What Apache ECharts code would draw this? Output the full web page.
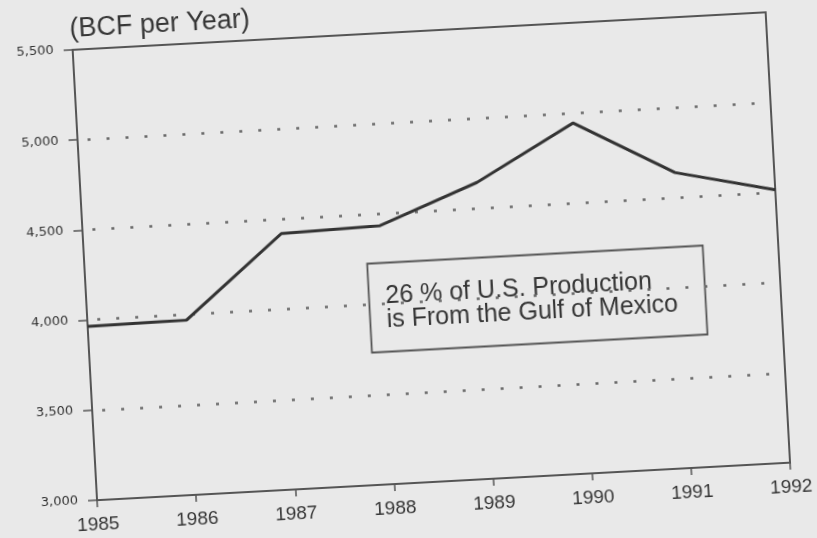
<!DOCTYPE html>
<html>
<head>
<meta charset="utf-8">
<script src="https://cdn.jsdelivr.net/npm/echarts@6/dist/echarts.min.js"></script>
<style>
  html, body { margin: 0; padding: 0; width: 817px; height: 538px; overflow: hidden; background: #e9e9e9; }
  /* the scan is tilted a little, so the whole chart is turned about the page centre */
  #chart { position: absolute; left: -50px; top: -50px; width: 917px; height: 638px; transform: rotate(-3.1deg); }
</style>
</head>
<body>
<div id="chart"></div>
<script>
// BCF per year
var years = ['1985', '1986', '1987', '1988', '1989', '1990', '1991', '1992'];
var production = [3965, 3970, 4420, 4435, 4645, 4945, 4640, 4515];
var yTicks = [3000, 3500, 4000, 4500, 5000, 5500];
var unitLabel = '(BCF per Year)';
var noteLines = ['26 % of U.S. Production', 'is From the Gulf of Mexico'];

var ink = '#363636';
var font = 'Liberation Sans';

var myChart = echarts.init(document.getElementById('chart'));

var option = {
    animation: false,
    backgroundColor: 'transparent',
    title: {
        text: unitLabel,
        left: 133,
        top: 48,
        padding: 0,
        textStyle: { fontFamily: font, fontSize: 27, fontWeight: 'normal', color: ink }
    },
    grid: {
        show: true,
        left: 135,
        right: 88,
        top: 82,
        bottom: 105,
        borderColor: '#555',
        borderWidth: 2,
        backgroundColor: 'transparent'
    },
    xAxis: {
        type: 'category',
        data: years,
        boundaryGap: false,
        axisLine: { lineStyle: { color: '#555', width: 2 } },
        axisTick: { show: true, inside: false, length: 7, lineStyle: { color: '#555', width: 1.5 } },
        axisLabel: { margin: 15, fontFamily: font, fontSize: 19, color: ink },
        splitLine: { show: false }
    },
    yAxis: {
        type: 'value',
        min: yTicks[0],
        max: yTicks[yTicks.length - 1],
        interval: yTicks[1] - yTicks[0],
        axisLine: { show: true, lineStyle: { color: '#555', width: 2 } },
        axisTick: { show: true, inside: false, length: 9, lineStyle: { color: '#555', width: 1.5 } },
        axisLabel: {
            margin: 19,
            fontFamily: 'DejaVu Sans',
            fontSize: 13,
            color: '#333',
            formatter: function (v) { return v.toLocaleString('en-US'); }
        },
        splitLine: {
            show: true,
            showMinLine: false,
            showMaxLine: false,
            lineStyle: { color: '#6a6a6a', width: 2.5, type: [3, 16], dashOffset: 9 }
        }
    },
    graphic: [
        {
            type: 'rect',
            left: 415,
            top: 309,
            shape: { width: 336, height: 89 },
            style: { fill: 'none', stroke: '#555', lineWidth: 1.8 }
        },
        {
            type: 'text',
            left: 434,
            top: 333,
            style: {
                text: noteLines.join('\n'),
                fontFamily: font,
                fontSize: 25,
                lineHeight: 24,
                fill: ink
            }
        }
    ],
    series: [
        {
            name: 'production',
            type: 'line',
            data: production,
            symbol: 'none',
            lineStyle: { color: '#333', width: 3 }
        }
    ]
};

myChart.setOption(option);
</script>
</body>
</html>
